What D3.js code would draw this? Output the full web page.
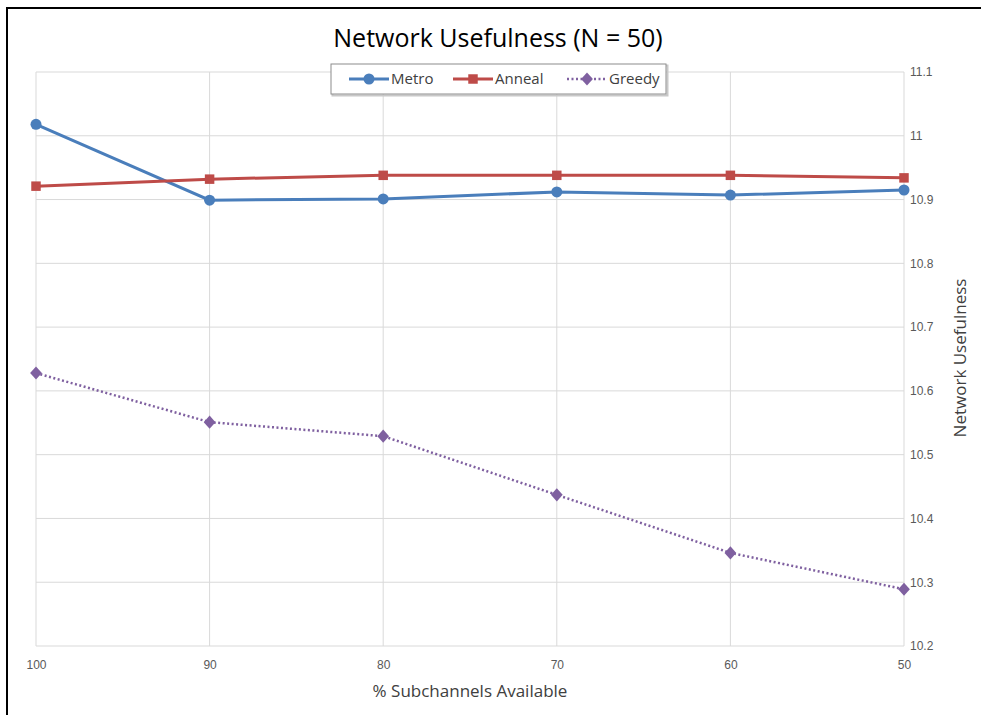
<!DOCTYPE html>
<html>
<head>
<meta charset="utf-8">
<script src="https://cdn.jsdelivr.net/npm/d3@7"></script>
<style>
  body { margin: 0; background: #fff; }
  svg { display: block; font-family: "Open Sans", "Liberation Sans", sans-serif; }
</style>
</head>
<body>
<svg id="chart" width="981" height="715"></svg>
<script>
// donnees
const categories = [100, 90, 80, 70, 60, 50];
const metro = [11.018, 10.899, 10.901, 10.912, 10.907, 10.915];
const anneal = [10.921, 10.932, 10.938, 10.938, 10.938, 10.934];
const greedy = [10.628, 10.551, 10.529, 10.437, 10.346, 10.289];
const yTicks = [10.2, 10.3, 10.4, 10.5, 10.6, 10.7, 10.8, 10.9, 11, 11.1];

const series = [
  { name: "Metro", values: metro, color: "#4a7ebb", dash: null, symbol: d3.symbolCircle, size: 95, stretch: 1 },
  { name: "Anneal", values: anneal, color: "#be4b48", dash: null, symbol: d3.symbolSquare, size: 90, stretch: 1 },
  { name: "Greedy", values: greedy, color: "#7f60a0", dash: "2,2.5", symbol: d3.symbolDiamond2 || d3.symbolDiamond, size: 88, stretch: 1.12 }
];

const svg = d3.select("#chart");
const margin = { left: 36, right: 77, top: 72, bottom: 69 };
const width = 981, height = 715;

// cadre (haut + gauche)
svg.append("line").attr("x1", 6).attr("x2", width).attr("y1", 8).attr("y2", 8)
  .attr("stroke", "#000").attr("stroke-width", 2);
svg.append("line").attr("x1", 7).attr("x2", 7).attr("y1", 8).attr("y2", height)
  .attr("stroke", "#000").attr("stroke-width", 2);

const x = d3.scalePoint()
  .domain(categories)
  .range([margin.left, width - margin.right]);

const y = d3.scaleLinear()
  .domain([10.2, 11.1])
  .range([height - margin.bottom, margin.top]);

// grille
svg.append("g")
  .selectAll("line.h")
  .data(yTicks)
  .join("line")
  .attr("x1", margin.left).attr("x2", width - margin.right)
  .attr("y1", d => y(d)).attr("y2", d => y(d))
  .attr("stroke", "#d9d9d9").attr("stroke-width", 1);

svg.append("g")
  .selectAll("line.v")
  .data(categories)
  .join("line")
  .attr("x1", d => x(d)).attr("x2", d => x(d))
  .attr("y1", margin.top).attr("y2", height - margin.bottom)
  .attr("stroke", "#d9d9d9").attr("stroke-width", 1);

// axes
const yAxis = svg.append("g")
  .attr("transform", `translate(${width - margin.right}, 0)`)
  .call(d3.axisRight(y).tickValues(yTicks).tickSize(0).tickPadding(6).tickFormat(d3.format("")));
yAxis.select(".domain").remove();
yAxis.selectAll("text").attr("fill", "#595959").attr("font-size", 12).attr("dy", "0.32em");

const xAxis = svg.append("g")
  .attr("transform", `translate(0, ${height - margin.bottom})`)
  .call(d3.axisBottom(x).tickSize(0).tickPadding(14));
xAxis.select(".domain").remove();
xAxis.selectAll("text").attr("fill", "#595959").attr("font-size", 12);

// titres
svg.append("text")
  .attr("x", 498).attr("y", 47)
  .attr("text-anchor", "middle")
  .attr("font-size", 25).attr("fill", "#000")
  .text("Network Usefulness (N = 50)");

svg.append("text")
  .attr("x", 470).attr("y", 697)
  .attr("text-anchor", "middle")
  .attr("font-size", 17).attr("fill", "#404040")
  .text("% Subchannels Available");

svg.append("text")
  .attr("transform", "translate(966, 358) rotate(-90)")
  .attr("text-anchor", "middle")
  .attr("font-size", 17).attr("fill", "#404040")
  .text("Network Usefulness");

// courbes
const line = d3.line()
  .x((d, i) => x(categories[i]))
  .y(d => y(d));

series.forEach(s => {
  svg.append("path")
    .datum(s.values)
    .attr("d", line)
    .attr("fill", "none")
    .attr("stroke", s.color)
    .attr("stroke-width", s.dash ? 2.5 : 3)
    .attr("stroke-dasharray", s.dash);

  svg.append("g")
    .selectAll("path")
    .data(s.values)
    .join("path")
    .attr("transform", (d, i) => `translate(${x(categories[i])}, ${y(d)}) scale(1, ${s.stretch})`)
    .attr("d", d3.symbol().type(s.symbol).size(s.size))
    .attr("fill", s.color);
});

// legende
const legend = svg.append("g").attr("transform", "translate(331, 64)");
legend.append("rect")
  .attr("x", 1.5).attr("y", 1.5).attr("width", 335).attr("height", 30)
  .attr("fill", "none").attr("stroke", "#c8c8c8").attr("stroke-width", 2);
legend.append("rect")
  .attr("width", 335).attr("height", 30)
  .attr("fill", "#fff").attr("stroke", "#8c8c8c").attr("stroke-width", 1);

const legendX = [18, 122, 236];
series.forEach((s, i) => {
  const g = legend.append("g").attr("transform", `translate(${legendX[i]}, 15)`);
  g.append("line")
    .attr("x1", 0).attr("x2", 40)
    .attr("stroke", s.color)
    .attr("stroke-width", s.dash ? 2.5 : 3)
    .attr("stroke-dasharray", s.dash);
  g.append("path")
    .attr("transform", `translate(20, 0) scale(1, ${s.stretch})`)
    .attr("d", d3.symbol().type(s.symbol).size(s.size))
    .attr("fill", s.color);
  g.append("text")
    .attr("x", 42).attr("y", 0).attr("dy", "0.35em")
    .attr("font-size", 15).attr("fill", "#404040")
    .text(s.name);
});
</script>
</body>
</html>
